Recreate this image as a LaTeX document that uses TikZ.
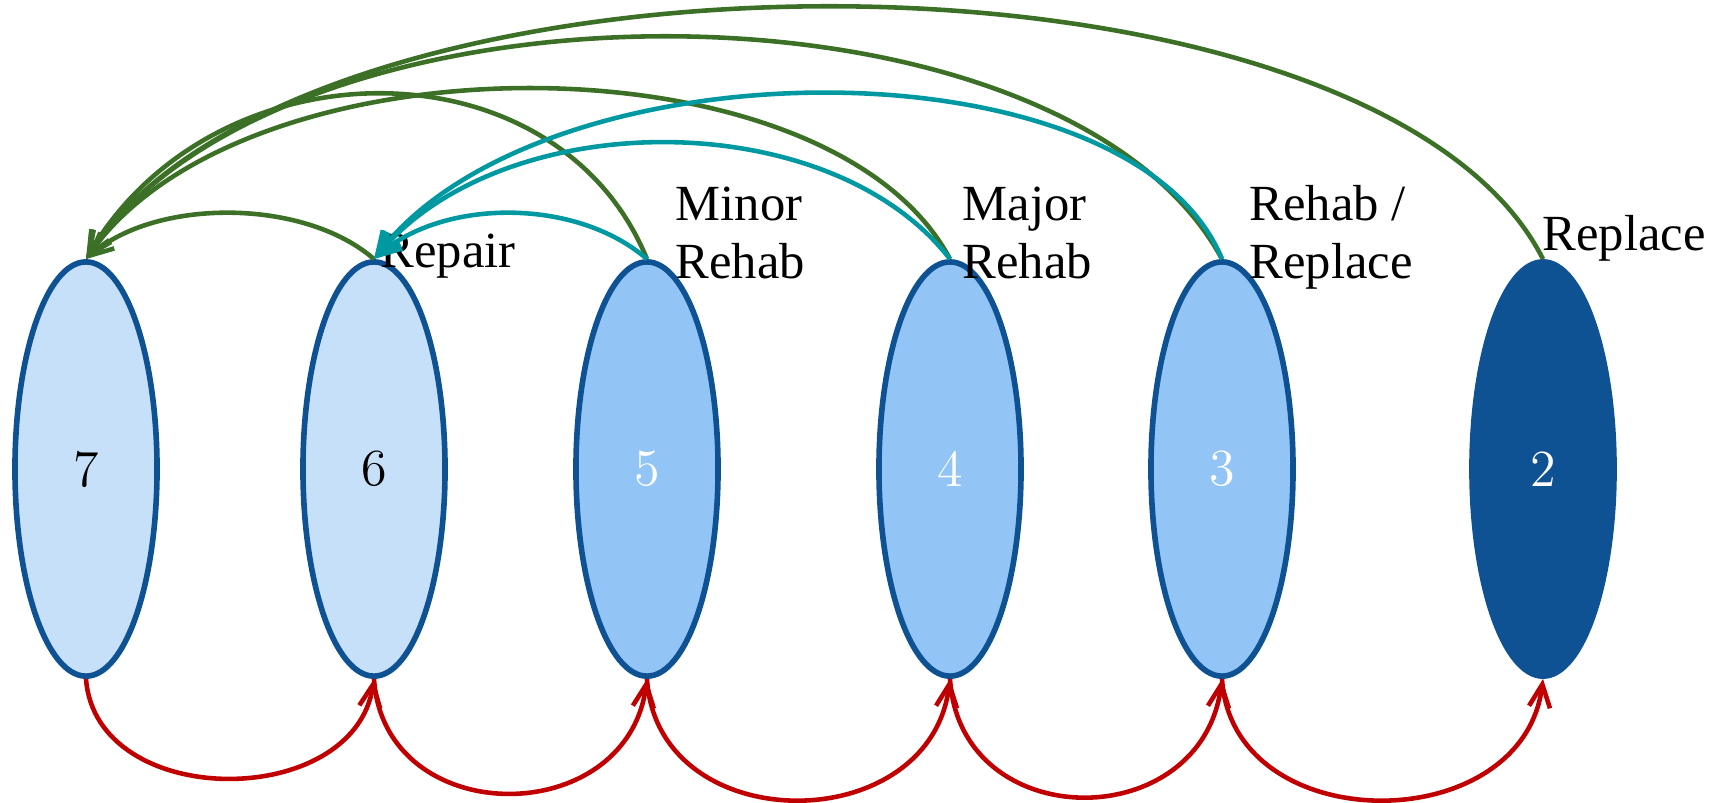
\documentclass[tikz,border=0pt]{standalone}
\usepackage{fontspec}
\newfontfamily\labfont{Liberation Serif}
\usetikzlibrary{shapes.geometric,arrows.meta}
\definecolor{lightfill}{RGB}{198,224,250}
\definecolor{midfill}{RGB}{146,197,245}
\definecolor{darkblue}{RGB}{14,82,147}
\definecolor{arcgreen}{RGB}{59,112,38}
\definecolor{arcteal}{RGB}{0,153,161}
\definecolor{arcred}{RGB}{192,0,0}
\begin{document}
\begin{tikzpicture}[x=0.01cm,y=0.01cm,
  state/.style={ellipse, draw=darkblue, line width=1.6pt, minimum width=1.42cm, minimum height=4.14cm, inner sep=0pt,
    font=\fontsize{14.8}{17}\selectfont},
  light/.style={state, fill=lightfill, text=black},
  mid/.style={state, fill=midfill, text=white},
  dark/.style={state, fill=darkblue, text=white},
  lbl/.style={anchor=base west, inner sep=0pt, align=left, font=\labfont\fontsize{14.4}{16.4}\selectfont},
  tip/.style={-{Straight Barb[length=6.5pt,width=6pt,line width=1.3pt]}},
  garr/.style={tip, draw=arcgreen, line width=1.3pt},
  tarr/.style={tip, draw=arcteal, line width=1.3pt},
  rarr/.style={tip, draw=arcred, line width=1.3pt}]
\useasboundingbox (0,0) rectangle (1727,-802);
\node[light] (n7) at (86,-469) {7};
\node[light] (n6) at (374,-469) {6};
\node[mid]   (n5) at (647,-469) {5};
\node[mid]   (n4) at (950,-469) {4};
\node[mid]   (n3) at (1222,-469) {3};
\node[dark]  (n2) at (1543,-469) {2};
% labels
\node[lbl] (l6) at (380,-267) {Repair};
\node[lbl] (l5) at (675,-278) {Minor\\Rehab};
\node[lbl] (l4) at (962,-278) {Major\\Rehab};
\node[lbl] (l3) at (1249,-278) {Rehab /\\Replace};
\node[lbl] (l2) at (1542,-250) {Replace};
% green arcs to 7
\draw[garr] (n6.north) .. controls +(-70,61) and +(70,61) .. (n7.north);
\draw[garr] (n5.north) .. controls +(-90,220) and +(130,220) .. (n7.north);
\draw[garr] (n4.north) .. controls +(-120,227) and +(160,227) .. (n7.north);
\draw[garr] (n3.north) .. controls +(-160,296) and +(200,296) .. (n7.north);
\draw[garr] (n2.north) .. controls +(-170,336) and +(220,336) .. (n7.north);
% teal arcs to 6
\draw[tarr] (n5.north) .. controls +(-70,61) and +(70,61) .. (n6.north);
\draw[tarr] (n4.north) .. controls +(-120,155) and +(130,155) .. (n6.north);
\draw[tarr] (n3.north) .. controls +(-90,221) and +(170,221) .. (n6.north);
% red arcs
\draw[rarr] (n7.south) .. controls +(10,-132) and +(-20,-132) .. (n6.south);
\draw[rarr] (n6.south) .. controls +(10,-152) and +(-20,-152) .. (n5.south);
\draw[rarr] (n5.south) .. controls +(10,-161) and +(-20,-161) .. (n4.south);
\draw[rarr] (n4.south) .. controls +(10,-157) and +(-20,-157) .. (n3.south);
\draw[rarr] (n3.south) .. controls +(10,-161) and +(-20,-161) .. (n2.south);
\end{tikzpicture}
\end{document}
